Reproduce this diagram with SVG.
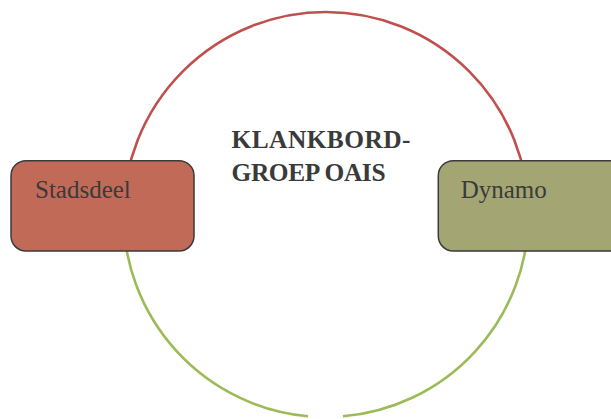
<svg xmlns="http://www.w3.org/2000/svg" width="611" height="419" viewBox="0 0 611 419">
  <style>
    .arc { fill: none; stroke-width: 2.6; }
    .node rect { stroke: #3a3a3a; stroke-width: 1.5; }
    .label { font-family: "Liberation Serif", "Times New Roman", serif; font-size: 25px; fill: #3a3a3a; }
    .title { font-family: "Liberation Serif", "Times New Roman", serif; font-size: 25.4px; font-weight: bold; fill: #3a3a3a; }
  </style>
  <rect width="611" height="419" fill="#ffffff"/>

  <!-- ring connectors -->
  <g id="connectors">
    <path class="arc" stroke="#C0504D" d="M123.5 214.5 A202.5 202.5 0 0 1 528.5 214.5"/>
    <path class="arc" stroke="#9BBB59" d="M528.5 214.5 A202.5 202.5 0 0 1 343 416.3"/>
    <path class="arc" stroke="#9BBB59" d="M308 416.2 A202.5 202.5 0 0 1 123.5 214.5"/>
  </g>

  <g id="title">
    <text class="title" x="231.5" y="147.5" textLength="179" lengthAdjust="spacing">KLANKBORD-</text>
    <text class="title" x="231.5" y="181" textLength="154" lengthAdjust="spacing">GROEP OAIS</text>
  </g>

  <g id="stadsdeel" class="node">
    <rect x="11" y="160.7" width="183" height="90.3" rx="15" fill="#C16A58"/>
    <text class="label" x="35" y="197.5">Stadsdeel</text>
  </g>

  <g id="dynamo" class="node">
    <rect x="438.3" y="160.7" width="190" height="90.3" rx="15" fill="#A3A673"/>
    <text class="label" x="460.7" y="197.5">Dynamo</text>
  </g>
</svg>
